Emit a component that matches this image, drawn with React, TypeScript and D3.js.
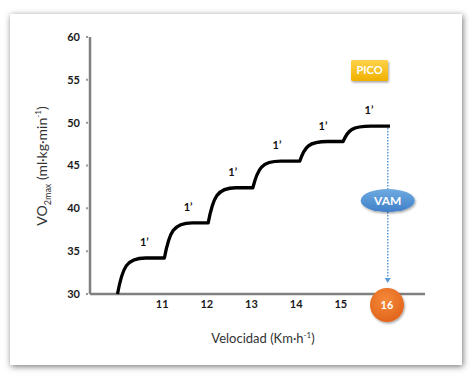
import React from "react";
import * as d3 from "d3";

// ---- data ----
const yTicks = [30, 35, 40, 45, 50, 55, 60];
const xTicks = [11, 12, 13, 14, 15];
const stageStart = [10.0, 11.05, 12.03, 13.03, 14.08, 15.05];
const stageLevel = [34.2, 38.3, 42.4, 45.5, 47.8, 49.6];
const stageEnd = 16.1;
const baseVO2 = 30;
const stageLabelX = [10.6, 11.58, 12.58, 13.57, 14.6, 15.63];
const stageLabel = "1’";
const vamSpeed = 16;
const vamLineX = 16.05;

const W = 474;
const H = 377;
const FONT = "Lato, 'Open Sans', sans-serif";

export default function App() {
  const x = d3.scaleLinear().domain([10, 16]).range([117.5, 385.5]);
  const y = d3.scaleLinear().domain([30, 60]).range([294, 37]);
  const axisLeft = 90;
  const axisRight = 425;

  // stepped curve
  const p = d3.path();
  stageStart.forEach((xs, i) => {
    const prev = i === 0 ? baseVO2 : stageLevel[i - 1];
    const lvl = stageLevel[i];
    const X0 = x(xs);
    const Y0 = y(prev);
    if (i === 0) p.moveTo(X0, Y0);
    else p.lineTo(X0, Y0);
    p.bezierCurveTo(X0 + 5, y(prev + 0.75 * (lvl - prev)), X0 + 9, y(lvl), X0 + 28, y(lvl));
    const xe = i < stageStart.length - 1 ? stageStart[i + 1] : stageEnd;
    p.lineTo(x(xe), y(lvl));
  });

  const vx = x(vamLineX);
  const topY = y(stageLevel[stageLevel.length - 1]) + 2;
  const ellCy = 200.5;
  const ellRy = 11.5;
  const arrowY = 283;

  return (
    <svg width={W} height={H} style={{ position: "absolute", left: 0, top: 0 }} fontFamily={FONT}>
      <defs>
        <filter id="cardShadow" x="-5%" y="-5%" width="110%" height="110%">
          <feDropShadow dx="1" dy="1.5" stdDeviation="3" floodColor="#000" floodOpacity="0.55" />
        </filter>
        <filter id="smallShadow" x="-30%" y="-30%" width="160%" height="160%">
          <feDropShadow dx="1" dy="1.5" stdDeviation="1.2" floodColor="#000" floodOpacity="0.35" />
        </filter>
        <linearGradient id="picoGrad" x1="0" y1="0" x2="0" y2="1">
          <stop offset="0" stopColor="#ffd24a" />
          <stop offset="1" stopColor="#f0b000" />
        </linearGradient>
        <linearGradient id="vamGrad" x1="0" y1="0" x2="0" y2="1">
          <stop offset="0" stopColor="#6faae0" />
          <stop offset="1" stopColor="#3f80c8" />
        </linearGradient>
        <radialGradient id="orangeGrad" cx="0.45" cy="0.35" r="0.7">
          <stop offset="0" stopColor="#f58a3a" />
          <stop offset="1" stopColor="#e0621a" />
        </radialGradient>
      </defs>

      <rect x={0} y={0} width={W} height={H} fill="#fff" />
      <rect x={10} y={14} width={452} height={351} fill="#fff" filter="url(#cardShadow)" />

      {/* axes */}
      <line x1={axisLeft} x2={axisLeft} y1={y(60)} y2={y(30)} stroke="#808080" strokeWidth={2.5} />
      <line x1={axisLeft} x2={axisRight} y1={y(30)} y2={y(30)} stroke="#808080" strokeWidth={2.5} />

      {yTicks.map((t) => (
        <g key={t}>
          <line x1={axisLeft - 4} x2={axisLeft - 2} y1={y(t)} y2={y(t)} stroke="#999" strokeWidth={2} />
          <text x={80} y={y(t)} dy="0.35em" textAnchor="end" fontSize={11} fontWeight="bold" fill="#1a1a1a">
            {t}
          </text>
        </g>
      ))}
      {xTicks.map((t) => (
        <text key={t} x={x(t)} y={308} textAnchor="middle" fontSize={11} fontWeight="bold" fill="#1a1a1a">
          {t}
        </text>
      ))}

      {/* curve */}
      <path d={p.toString()} fill="none" stroke="#000" strokeWidth={3.3} strokeLinejoin="round" />

      {stageLabelX.map((lx, i) => (
        <text key={i} x={x(lx)} y={y(stageLevel[i]) - 12} textAnchor="middle" fontSize={11} fontWeight="bold" fill="#111">
          {stageLabel}
        </text>
      ))}

      {/* dotted VAM line */}
      <line x1={vx} x2={vx} y1={topY} y2={ellCy - ellRy} stroke="#5b9bd5" strokeWidth={1.5} strokeDasharray="1.5,1.5" />
      <line x1={vx} x2={vx} y1={ellCy + ellRy} y2={arrowY - 4} stroke="#5b9bd5" strokeWidth={1.5} strokeDasharray="1.5,1.5" />
      <path d={`M${vx - 3},${arrowY - 5} L${vx + 3},${arrowY - 5} L${vx},${arrowY} Z`} fill="#5b9bd5" />

      {/* VAM ellipse */}
      <ellipse cx={vx} cy={ellCy} rx={27} ry={ellRy} fill="url(#vamGrad)" filter="url(#smallShadow)" />
      <text x={vx} y={ellCy} dy="0.36em" textAnchor="middle" fontSize={12} fontWeight="bold" fill="#fff">
        VAM
      </text>

      {/* 16 circle */}
      <circle cx={x(vamSpeed) + 1.5} cy={305} r={17} fill="url(#orangeGrad)" filter="url(#smallShadow)" />
      <text x={x(vamSpeed) + 1.5} y={305} dy="0.36em" textAnchor="middle" fontSize={11} fontWeight="bold" fill="#fff">
        {vamSpeed}
      </text>

      {/* PICO box */}
      <rect x={351} y={60} width={37} height={21} fill="url(#picoGrad)" rx={1.5} filter="url(#smallShadow)" />
      <text x={369.5} y={70.5} dy="0.36em" textAnchor="middle" fontSize={11} fontWeight="bold" fill="#fff">
        PICO
      </text>

      {/* axis titles */}
      <text x={263} y={343} textAnchor="middle" fontSize={13} fill="#333">
        Velocidad (Km·h<tspan dy={-5} fontSize={8}>-1</tspan><tspan dy={5}>)</tspan>
      </text>
      <text transform="translate(47,166) rotate(-90)" textAnchor="middle" fontSize={14} fill="#333">
        VO<tspan dy={4} fontSize={9}>2max</tspan><tspan dy={-4}> (ml·kg·min</tspan>
        <tspan dy={-6} fontSize={8}>-1</tspan><tspan dy={6}>)</tspan>
      </text>
    </svg>
  );
}
